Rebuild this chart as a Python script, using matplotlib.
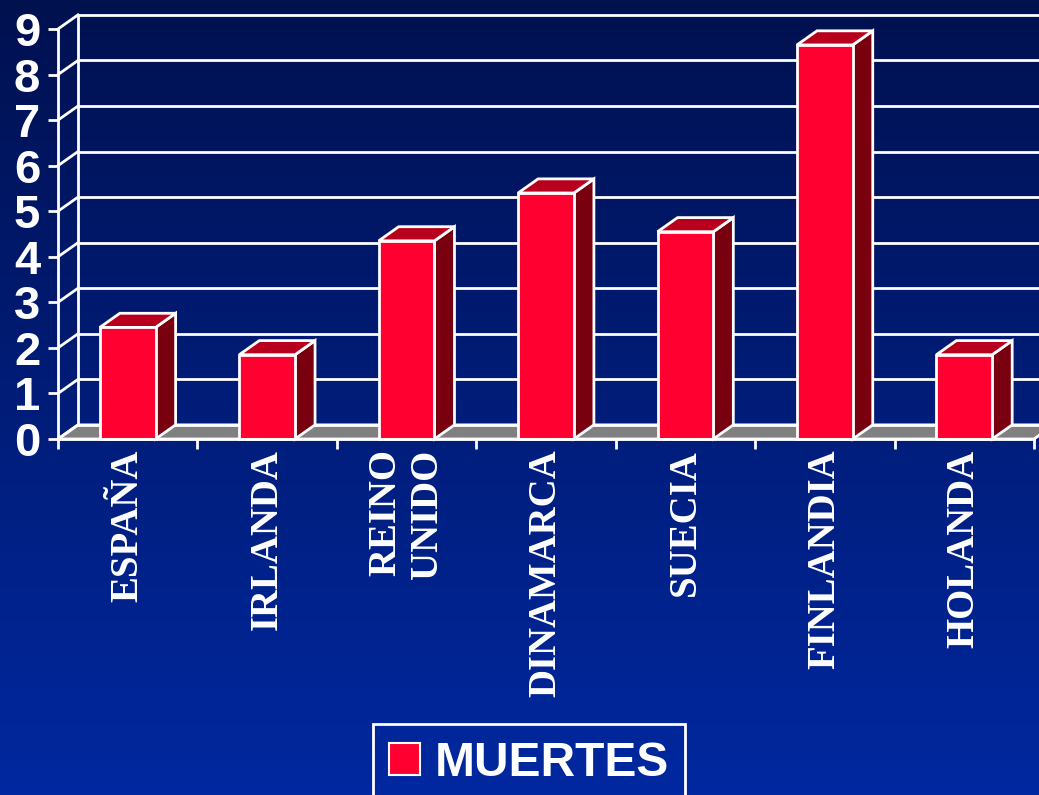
import numpy as np
import matplotlib
matplotlib.use("Agg")
import matplotlib.pyplot as plt
from matplotlib.patches import Polygon, Rectangle, Patch

# data
paises = ["ESPAÑA", "IRLANDA", "REINO\nUNIDO", "DINAMARCA", "SUECIA", "FINLANDIA", "HOLANDA"]
muertes = [2.45, 1.85, 4.35, 5.4, 4.55, 8.65, 1.85]
yticks = list(range(10))

# colours
front_c = "#ff0030"
top_c = "#b8001e"
side_c = "#78000f"
floor_c = "#808080"

fig = plt.figure(figsize=(10.39, 7.95), dpi=100)

# gradient background
bg = fig.add_axes([0, 0, 1, 1], zorder=0)
top_rgb = np.array([0, 17, 80]) / 255
bot_rgb = np.array([0, 40, 160]) / 255
t = np.linspace(0, 1, 256)[:, None]
grad = top_rgb[None, :] * (1 - t) + bot_rgb[None, :] * t
bg.imshow(grad[:, None, :], aspect="auto", extent=[0, 1, 0, 1])
bg.axis("off")

W, H = 1039, 795
ax = fig.add_axes([58 / W, (H - 439) / H, (1034 - 58) / W, (439 - 29) / H], zorder=1)
ax.set_facecolor("none")
n = len(paises)
ax.set_xlim(0, n)
ax.set_ylim(0, 9)

# depth offset of the fake 3d box (data units)
dx, dy = 0.1435, 0.31

# floor
ax.add_patch(Polygon([(0, 0), (n, 0), (n + dx, dy), (dx, dy)], closed=True,
                     facecolor=floor_c, edgecolor="white", lw=2, clip_on=False, zorder=1))

# back wall grid + side wall lines
for v in yticks:
    ax.plot([dx, n + dx + 0.5], [v + dy, v + dy], color="white", lw=2, clip_on=False, zorder=2)
    ax.plot([0, dx], [v, v + dy], color="white", lw=2, clip_on=False, zorder=2)
ax.plot([dx, dx], [dy, 9 + dy], color="white", lw=2, clip_on=False, zorder=2)

# bars
w = 0.40
for i, v in enumerate(muertes):
    x0 = i + 0.5 - w / 2
    x1 = i + 0.5 + w / 2
    ax.add_patch(Polygon([(x1, 0), (x1 + dx, dy), (x1 + dx, v + dy), (x1, v)], closed=True,
                         facecolor=side_c, edgecolor="white", lw=2, clip_on=False, zorder=3))
    ax.add_patch(Polygon([(x0, v), (x0 + dx, v + dy), (x1 + dx, v + dy), (x1, v)], closed=True,
                         facecolor=top_c, edgecolor="white", lw=2, clip_on=False, zorder=3))
    ax.add_patch(Rectangle((x0, 0), w, v, facecolor=front_c, edgecolor="white", lw=2,
                           clip_on=False, zorder=4))

# axes
for s in ["top", "right"]:
    ax.spines[s].set_visible(False)
for s in ["left", "bottom"]:
    ax.spines[s].set_color("white")
    ax.spines[s].set_linewidth(2)
    ax.spines[s].set_zorder(5)

ax.set_yticks(yticks)
ax.set_yticklabels([str(v) for v in yticks], fontsize=34, fontweight="bold",
                   family="Liberation Sans", color="white")
ax.tick_params(axis="y", length=7.2, width=2, color="white", pad=5.5)

ax.set_xticks(range(n + 1))
ax.set_xticklabels([])
ax.tick_params(axis="x", which="major", length=7.2, width=2, color="white")
ax.set_xticks(np.arange(n) + 0.5, minor=True)
ax.set_xticklabels(paises, minor=True, rotation=90, fontsize=28, fontweight="bold",
                   family="Liberation Serif", color="white", linespacing=1.15)
ax.tick_params(axis="x", which="minor", length=0, pad=7.5)
for lab in ax.get_xticklabels(minor=True):
    lab.set_multialignment("right")

# legend
leg = fig.legend(handles=[Patch(facecolor=front_c, edgecolor="white", lw=1.5)], labels=["MUERTES"],
                 loc="upper center", bbox_to_anchor=(529 / W, 1 - 724 / H),
                 prop={"family": "Liberation Sans", "weight": "bold", "size": 34.5},
                 handlelength=0.64, handleheight=0.64, handletextpad=0.3,
                 borderpad=0.35, borderaxespad=0, fancybox=False, framealpha=1)
leg.get_frame().set_facecolor("none")
leg.get_frame().set_edgecolor("white")
leg.get_frame().set_linewidth(2)
for txt in leg.get_texts():
    txt.set_color("white")

fig.savefig("out.png", dpi=100)
